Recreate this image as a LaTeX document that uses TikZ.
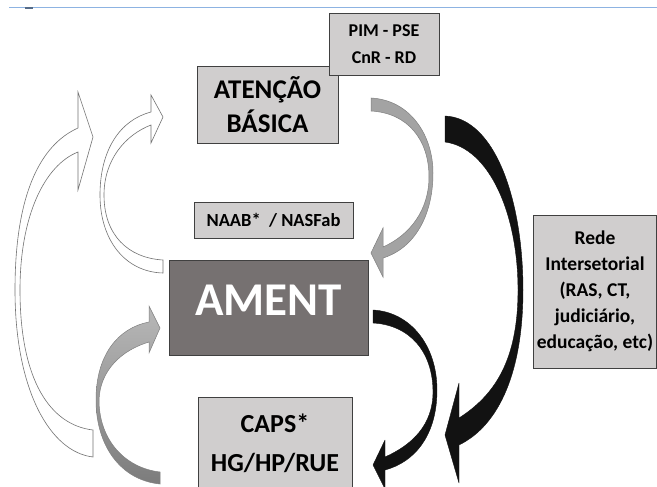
\documentclass[tikz,border=0pt]{standalone}
\usepackage{fontspec}
\setmainfont{Carlito}
\definecolor{boxgray}{HTML}{D0CECE}
\definecolor{amentgray}{HTML}{767171}
\definecolor{edgegray}{HTML}{404040}
\definecolor{arrowgray}{HTML}{A3A3A3}
\definecolor{gtop}{HTML}{B8B8B8}
\definecolor{gbot}{HTML}{7C7C7C}
\definecolor{linkblue}{HTML}{8DB3E2}
\begin{document}
\begin{tikzpicture}[x=1pt,y=-1pt,
  box/.style={draw=edgegray, fill=boxgray, line width=0.9pt, inner sep=0pt, align=center},
  whitearrow/.style={fill=white, draw=black!55, line width=0.6pt},
  grayarrow/.style={fill=arrowgray, draw=black!50, line width=0.5pt},
  blackarrow/.style={fill=black!93, draw=black!93, line width=0.4pt, line join=round}]
\useasboundingbox (0,0) rectangle (657,487);
\clip (0,0) rectangle (657,487);
\fill[white] (0,0) rectangle (657,487);
\draw[linkblue, line width=1pt] (9,8) -- (657,8);
\draw[linkblue!60!black, line width=1.2pt] (25,8) -- (33,8);

% big white arrow (left)
\draw[whitearrow] (93,457) .. controls (50,452) and (15,390) .. (15,290)
  .. controls (15,195) and (40,145) .. (78,128) -- (78,92) -- (93,137) -- (78,190) -- (78,152)
  .. controls (45,165) and (20,215) .. (20,290) .. controls (20,380) and (50,425) .. (93,430) -- cycle;
% small white arrow
\draw[whitearrow] (163,273) .. controls (125,272) and (100,240) .. (100,195)
  .. controls (100,150) and (120,120) .. (151,112) -- (151,95) -- (163,117) -- (151,143) -- (151,125)
  .. controls (125,135) and (104,160) .. (104,195) .. controls (104,235) and (128,258) .. (163,260) -- cycle;
% gray arrow lower left
\draw[draw=black!50, line width=0.5pt, top color=gtop, bottom color=gbot]
  (160,484) .. controls (120,480) and (96,445) .. (96,400)
  .. controls (96,355) and (118,328) .. (149,322) -- (149,306) -- (160,328) -- (149,353) -- (149,342)
  .. controls (122,350) and (100,370) .. (99,400) .. controls (99,440) and (125,468) .. (160,472) -- cycle;
% gray arrow upper right
\draw[grayarrow] (371,98) .. controls (410,100) and (433,135) .. (433,173)
  .. controls (433,215) and (415,248) .. (383,258) -- (383,277) -- (371,253) -- (383,228) -- (383,247)
  .. controls (410,235) and (429,210) .. (429,177) .. controls (429,140) and (408,113) .. (371,111) -- cycle;
% big black arrow
\draw[blackarrow] (445,116) .. controls (495,118) and (523,200) .. (523,290)
  .. controls (523,370) and (500,425) .. (459,445) -- (459,483) -- (445,435) -- (459,383) -- (459,418)
  .. controls (495,395) and (518,360) .. (518,290) .. controls (518,215) and (490,148) .. (445,142) -- cycle;
% small black arrow
\draw[blackarrow] (373,310) .. controls (410,312) and (437,345) .. (437,390)
  .. controls (437,435) and (415,462) .. (385,470) -- (385,489) -- (373,465) -- (385,440) -- (385,457)
  .. controls (412,445) and (433,425) .. (433,392) .. controls (433,352) and (410,325) .. (373,323) -- cycle;

% boxes
\node[box, minimum width=141pt, minimum height=77pt, font=\fontsize{27}{34}\selectfont\bfseries] (ab) at (267.5,104.5) {ATENÇÃO\\BÁSICA};
\node[box, minimum width=110pt, minimum height=62pt, font=\fontsize{18}{27}\selectfont\bfseries] (pim) at (384,44) {PIM - PSE\\CnR - RD};
\node[box, minimum width=159pt, minimum height=36pt, font=\fontsize{18.5}{22}\selectfont\bfseries] (naab) at (273.5,220) {NAAB*~ / NASFab};
\node[box, fill=amentgray, minimum width=199pt, minimum height=95pt] (am) at (268.5,307.5) {};
\node[text=white, font=\fontsize{47}{47}\selectfont\bfseries, inner sep=0pt] (amt) at (268.5,300) {AMENT};
\node[box, minimum width=123pt, minimum height=153pt, font=\fontsize{19.5}{26}\selectfont\bfseries] (rede) at (595,291.5) {Rede\\Intersetorial\\(RAS, CT,\\judiciário,\\educação, etc)};
\node[box, minimum width=154pt, minimum height=92pt, font=\fontsize{26}{39}\selectfont\bfseries] (caps) at (275,443) {CAPS*\\HG/HP/RUE};
\end{tikzpicture}
\end{document}
